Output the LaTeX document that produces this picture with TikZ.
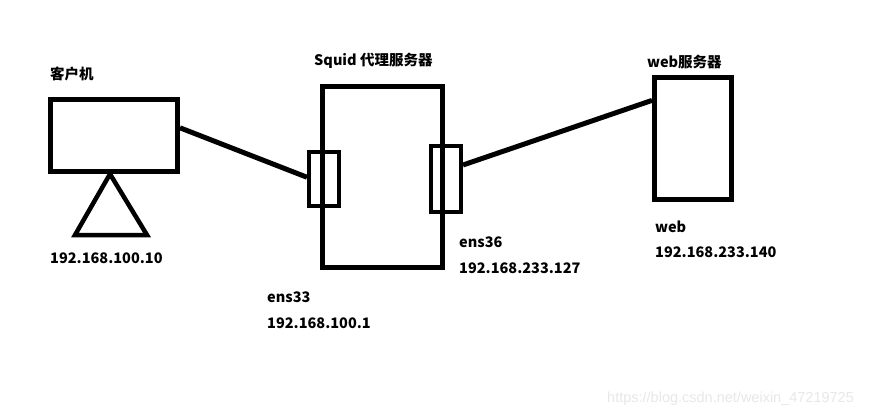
\documentclass[tikz,border=0pt]{standalone}
\usepackage{fontspec}
\setmainfont{Noto Sans CJK SC}
\newfontfamily\wmfont{Liberation Sans}
\usetikzlibrary{calc}
\begin{document}
\begin{tikzpicture}[x=1pt,y=-1pt,
  box/.style={draw,line width=5pt,inner sep=0pt,minimum width=#1},
  port/.style={draw,line width=4pt,inner sep=0pt,minimum width=30pt},
  wire/.style={line width=5pt},
  lbl/.style={anchor=west,inner sep=0pt,font=\fontsize{14.5}{16}\selectfont\bfseries},
  wm/.style={anchor=west,inner sep=0pt,text=black!9,font=\wmfont\fontsize{14.5}{16}\selectfont}]
\useasboundingbox[fill=white] (0,0) rectangle (887,418);
% client
\node[box=127pt,minimum height=72pt] (client) at (114,135.5) {};
\coordinate (apex) at (110,174);
\draw[line width=4.5pt,line join=miter] (apex) -- (75,235) -- (147,235) -- cycle;
% squid
\node[box=120pt,minimum height=181pt] (squid) at (382.5,177) {};
\node[port,minimum height=54pt] (p33) at (324,179) {};
\node[port,minimum height=66pt] (p36) at (446,179) {};
% web
\node[box=77pt,minimum height=122pt] (web) at (693,138.5) {};
% connectors
\coordinate (c1) at ($(client.north east)!0.40!(client.south east)$);
\coordinate (c2) at ($(p33.north west)!0.47!(p33.south west)$);
\draw[wire] (c1) -- (c2);
\coordinate (c3) at ($(p36.north east)!0.30!(p36.south east)$);
\coordinate (c4) at ($(web.north west)!0.20!(web.south west)$);
\draw[wire] (c3) -- (c4);
% labels
\node[lbl] (tclient) at (50,74) {客户机};
\node[lbl] (ipclient) at (50,258) {192.168.100.10};
\node[lbl] (tsquid) at (314,61) {Squid 代理服务器};
\node[lbl] (e33) at (267,297) {ens33};
\node[lbl] (ip33) at (267,323) {192.168.100.1};
\node[lbl] (e36) at (459,242) {ens36};
\node[lbl] (ip36) at (459,268) {192.168.233.127};
\node[lbl] (tweb) at (647,62) {web服务器};
\node[lbl] (eweb) at (655,227) {web};
\node[lbl] (ipweb) at (655,252) {192.168.233.140};
\node[wm] (mark) at (607,399) {https://blog.csdn.net/weixin\_47219725};
\end{tikzpicture}
\end{document}
